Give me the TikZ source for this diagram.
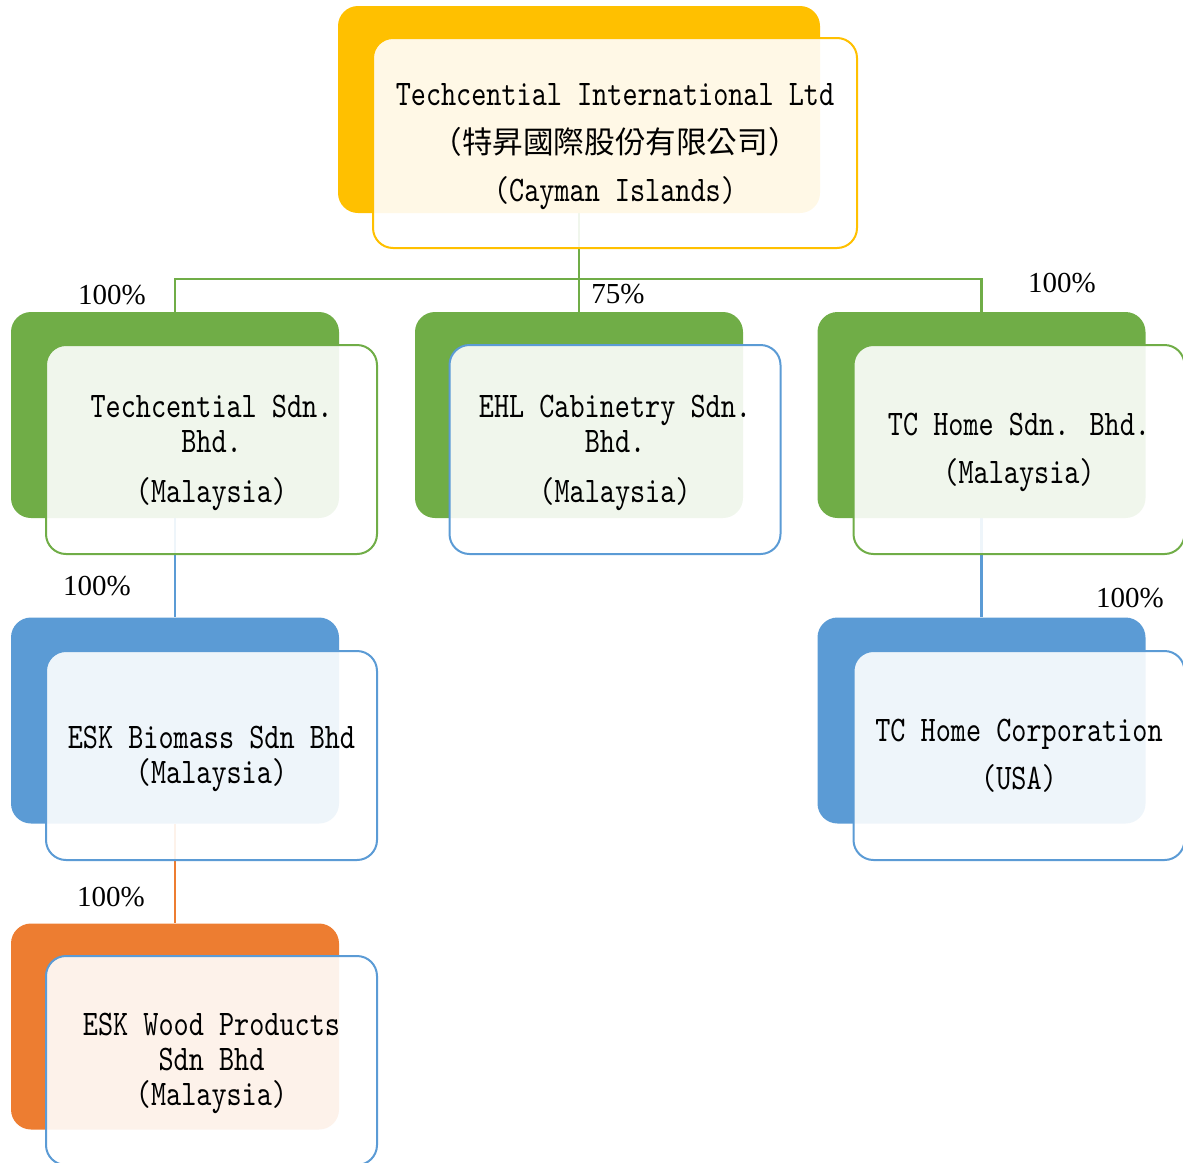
\documentclass[tikz,border=0pt]{standalone}
\usepackage{fontspec}
\newfontfamily\namefont{lmmono10-regular.otf}[FakeStretch=0.8]
\newfontfamily\cjkfont{Noto Sans CJK TC}
\newfontfamily\pctfont{Liberation Serif}
\usetikzlibrary{positioning,backgrounds}
\definecolor{Gold}{HTML}{FFC000}
\definecolor{Leaf}{HTML}{70AD47}
\definecolor{Sky}{HTML}{5B9BD5}
\definecolor{Rust}{HTML}{ED7D31}
\tikzset{chart layout/.style={%
    x=0.5pt,%
    y=-0.5pt,%
    every node/.style={%
        inner sep=0pt%
    }%
}}
\tikzset{back box/.style={%
    rectangle, rounded corners=10pt, minimum width=164pt, minimum height=103pt
}}
\tikzset{front box/.style={%
    rectangle, rounded corners=10pt, minimum width=165.5pt, minimum height=104.5pt,
    fill=white, fill opacity=0.9, line width=1pt
}}
\tikzset{name text/.style={%
    align=center, font=\namefont\fontsize{18}{17.5}\selectfont
}}
\tikzset{link/.style={line width=1.3pt}}
\tikzset{share/.style={font=\pctfont\fontsize{14.5}{16}\selectfont}}

\begin{document}
\begin{tikzpicture}[chart layout]
    \useasboundingbox (0,0) rectangle (1183,1162);

    % back boxes
    \node[back box, fill=Gold, minimum width=241pt, minimum height=103.5pt] (til) at (579,109.5) {};
    \node[back box, fill=Leaf] (tcs) at (175,415) {};
    \node[back box, fill=Leaf] (ehl) at (579,415) {};
    \node[back box, fill=Leaf] (tch) at (981.5,415) {};
    \node[back box, fill=Sky] (esk) at (175,720.5) {};
    \node[back box, fill=Sky] (tcc) at (981.5,720.5) {};
    \node[back box, fill=Rust] (eskw) at (175,1026.5) {};

    % links
    \begin{scope}[on background layer]
        \coordinate (bus) at (579,279);
        \draw[link, Leaf] (til.south) -- (ehl.north);
        \draw[link, Leaf] (tcs.north) |- (bus) -| (tch.north);
        \draw[link, Sky] (tcs) -- (esk);
        \draw[link, Sky] (tch) -- (tcc);
        \draw[link, Rust] (esk) -- (eskw);
    \end{scope}

    % front boxes
    \node[front box, draw=Gold, minimum width=242pt, minimum height=105pt] (tilf) at (615,143) {};
    \node[front box, draw=Leaf] (tcsf) at (211.5,449.5) {};
    \node[front box, draw=Sky] (ehlf) at (615,449.5) {};
    \node[front box, draw=Leaf] (tchf) at (1019,449.5) {};
    \node[front box, draw=Sky] (eskf) at (211.5,755.5) {};
    \node[front box, draw=Sky] (tccf) at (1019,755.5) {};
    \node[front box, draw=Sky] (eskwf) at (211.5,1060.5) {};

    % names
    \node[name text] (tilt) at ([yshift=-2pt]tilf.center)
        {Techcential International Ltd\\[6.5pt]{\cjkfont\fontsize{15.3}{17}\selectfont （特昇國際股份有限公司）}\\[6.5pt](Cayman Islands)};
    \node[name text] (tcst) at ([yshift=-1.5pt]tcsf.center) {Techcential Sdn.\\Bhd.\\[7.5pt](Malaysia)};
    \node[name text] (ehlt) at ([yshift=-1.5pt]ehlf.center) {EHL Cabinetry Sdn.\\Bhd.\\[7.5pt](Malaysia)};
    \node[name text] (tcht) at ([yshift=-1.5pt]tchf.center) {TC Home Sdn. Bhd.\\[6.5pt](Malaysia)};
    \node[name text] (eskt) at ([yshift=-1.5pt]eskf.center) {ESK Biomass Sdn Bhd\\(Malaysia)};
    \node[name text] (tcct) at (tccf.center) {TC Home Corporation\\[6.5pt](USA)};
    \node[name text] (eskwt) at ([yshift=-1.5pt]eskwf.center) {ESK Wood Products\\Sdn Bhd\\(Malaysia)};

    % shares
    \node[share] (s1) at (112,295) {100\%};
    \node[share] (s2) at (618,294) {75\%};
    \node[share] (s3) at (1062,283) {100\%};
    \node[share] (s4) at (97,586) {100\%};
    \node[share] (s5) at (1130,598) {100\%};
    \node[share] (s6) at (111,897) {100\%};
\end{tikzpicture}
\end{document}
